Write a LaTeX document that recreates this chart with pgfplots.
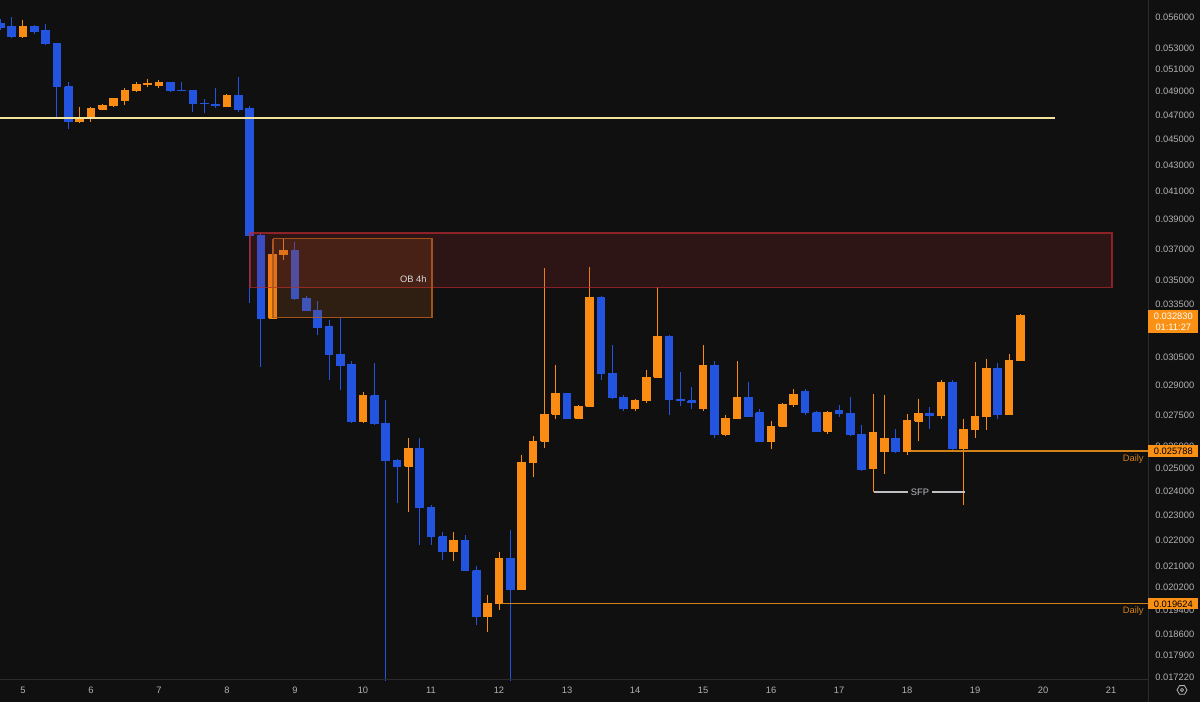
\documentclass[border=0pt]{standalone}
\usepackage{pgfplots}
\pgfplotsset{compat=1.18}
\usepackage{pgfplotstable}
\usepackage{fontspec}
\setmainfont{Liberation Sans}
\usetikzlibrary{shapes.geometric}

\definecolor{bg}{RGB}{16,16,16}
\definecolor{upc}{RGB}{250,140,20}
\definecolor{downc}{RGB}{34,84,224}
\definecolor{axistext}{RGB}{178,178,182}
\definecolor{sepc}{RGB}{44,44,48}
\definecolor{hlinec}{RGB}{242,226,158}
\definecolor{obred}{RGB}{178,40,48}
\definecolor{oborange}{RGB}{175,88,28}
\definecolor{dailyc}{RGB}{210,130,25}
\definecolor{badgec}{RGB}{250,145,20}
\definecolor{sfpc}{RGB}{190,190,195}

% 4h candles, k = number of candles after day 5 00:00
\pgfplotstableread{
k o h l c
-2 0.05535 0.0558 0.0547 0.0550
-1 0.0551 0.0560 0.0539 0.05406
0 0.0541 0.0557 0.0539 0.0551
1 0.0551 0.0552 0.0543 0.0546
2 0.0547 0.0553 0.0533 0.0534
3 0.0534 0.0535 0.04673 0.04944
4 0.04944 0.04988 0.04582 0.04645
5 0.04645 0.04765 0.0463 0.04673
6 0.04673 0.0477 0.04645 0.04757
7 0.04751 0.0479 0.0474 0.04785
8 0.04779 0.0484 0.0477 0.04837
9 0.04828 0.0493 0.04785 0.04909
10 0.04907 0.04988 0.049 0.04968
11 0.04965 0.05013 0.04939 0.0497
12 0.04959 0.05004 0.0493 0.04986
13 0.04984 0.0499 0.049 0.04909
14 0.04915 0.04984 0.04905 0.0491
15 0.04909 0.0491 0.04728 0.04794
16 0.048 0.04837 0.04715 0.04794
17 0.04792 0.0493 0.04757 0.0478
18 0.04776 0.0488 0.0477 0.04871
19 0.04871 0.05028 0.04728 0.04751
20 0.04757 0.0478 0.03357 0.03793
21 0.03793 0.0381 0.02998 0.03269
22 0.03269 0.03741 0.03265 0.03667
23 0.03663 0.03764 0.03628 0.03688
24 0.03688 0.03748 0.0338 0.03387
25 0.03387 0.0340 0.0331 0.03314
26 0.03317 0.03371 0.03172 0.03217
27 0.0322 0.03259 0.02927 0.03065
28 0.03066 0.03278 0.02876 0.03007
29 0.0301 0.0303 0.0271 0.0272
30 0.02716 0.02866 0.0271 0.02845
31 0.02845 0.03017 0.0270 0.0271
32 0.0271 0.02825 0.0168 0.02537
33 0.02537 0.0254 0.0235 0.0251
34 0.0251 0.02639 0.02312 0.02592
35 0.02592 0.0264 0.0218 0.02333
36 0.02333 0.0234 0.0218 0.02212
37 0.02212 0.0223 0.02122 0.02153
38 0.02153 0.0223 0.0212 0.02196
39 0.02196 0.0222 0.0208 0.02081
40 0.02081 0.0210 0.0189 0.01917
41 0.01917 0.01993 0.01866 0.01965
42 0.01965 0.02154 0.01941 0.02129
43 0.02129 0.02239 0.0168 0.02012
44 0.02012 0.0256 0.0201 0.02524
45 0.02524 0.02649 0.02462 0.02625
46 0.02625 0.03576 0.02592 0.02755
47 0.02755 0.03007 0.0273 0.0286
48 0.0286 0.0286 0.0273 0.02735
49 0.02735 0.028 0.0273 0.02794
50 0.02794 0.03582 0.0279 0.03395
51 0.03395 0.034 0.02927 0.02964
52 0.02964 0.03116 0.0283 0.02839
53 0.02839 0.0285 0.0277 0.0278
54 0.0278 0.0283 0.0277 0.0282
55 0.0282 0.02978 0.0281 0.02943
56 0.02943 0.03456 0.0294 0.03167
57 0.03167 0.0317 0.0275 0.02825
58 0.02828 0.02968 0.02797 0.02822
59 0.0282 0.0289 0.0278 0.0281
60 0.0278 0.03116 0.0277 0.03007
61 0.03007 0.0303 0.0264 0.02658
62 0.02658 0.0275 0.0265 0.02735
63 0.02735 0.0303 0.0273 0.02839
64 0.02839 0.02917 0.0274 0.02745
65 0.0276 0.0278 0.0262 0.02625
66 0.02625 0.0272 0.0259 0.02696
67 0.02696 0.0281 0.0269 0.028
68 0.028 0.0288 0.0279 0.02855
69 0.0287 0.0288 0.0275 0.0276
70 0.0276 0.0277 0.0267 0.02672
71 0.02672 0.0277 0.0266 0.0276
72 0.0277 0.028 0.0274 0.02758
73 0.02758 0.0284 0.0265 0.02658
74 0.02658 0.027 0.0249 0.02497
75 0.025 0.02855 0.02397 0.02666
76 0.02576 0.0285 0.02474 0.02639
77 0.02639 0.0268 0.0257 0.02576
78 0.02576 0.02755 0.0256 0.02724
79 0.0272 0.0283 0.02627 0.02758
80 0.02758 0.0279 0.0268 0.02747
81 0.02747 0.0293 0.0273 0.02915
82 0.02915 0.0293 0.0258 0.02588
83 0.02588 0.02729 0.02341 0.0268
84 0.0268 0.03021 0.0264 0.02741
85 0.02741 0.0304 0.02677 0.02989
86 0.02989 0.0302 0.0273 0.02754
87 0.02754 0.03065 0.0275 0.0303
88 0.0303 0.03295 0.0303 0.03283
}\candles

\begin{document}
\begin{tikzpicture}[x=0.6pt,y=0.6pt]
\fill[bg] (0,0) rectangle (1200,702);
\path[use as bounding box] (0,0) rectangle (1200,702);
\begin{axis}[
  at={(0pt,13.2pt)}, anchor=south west,
  scale only axis, width=688.8pt, height=408pt,
  xmin=4.6618, xmax=21.544,
  ymode=log, ymin=0.017126, ymax=0.057728,
  axis line style={draw=none},
  major tick length=0pt, minor tick num=0,
  xtick={5,6,7,8,9,10,11,12,13,14,15,16,17,18,19,20,21},
  xticklabels={5,6,7,8,9,10,11,12,13,14,15,16,17,18,19,20,21},
  ytick={0.056,0.053,0.051,0.049,0.047,0.045,0.043,0.041,0.039,0.037,0.035,0.0335,0.032,0.0305,0.029,0.0275,0.026,0.025,0.024,0.023,0.022,0.021,0.0202,0.0194,0.0186,0.0179,0.01722},
  yticklabels={0.056000,0.053000,0.051000,0.049000,0.047000,0.045000,0.043000,0.041000,0.039000,0.037000,0.035000,0.033500,0.032000,0.030500,0.029000,0.027500,0.026000,0.025000,0.024000,0.023000,0.022000,0.021000,0.020200,0.019400,0.018600,0.017900,0.017220},
  yticklabel pos=right,
  tick label style={font=\fontsize{5.6}{6.5}\selectfont, text=axistext},
  xticklabel style={anchor=center, yshift=-6pt},
  yticklabel style={anchor=west, inner sep=0pt, xshift=4.2pt},
]
% candles
\pgfplotstablegetrowsof{\candles}
\pgfmathtruncatemacro{\lastrow}{\pgfplotsretval-1}
\pgfplotsforeachungrouped \i in {0,...,\lastrow}{%
  \pgfplotstablegetelem{\i}{k}\of\candles \let\vk\pgfplotsretval
  \pgfplotstablegetelem{\i}{o}\of\candles \let\vo\pgfplotsretval
  \pgfplotstablegetelem{\i}{h}\of\candles \let\vh\pgfplotsretval
  \pgfplotstablegetelem{\i}{l}\of\candles \let\vl\pgfplotsretval
  \pgfplotstablegetelem{\i}{c}\of\candles \let\vc\pgfplotsretval
  \pgfmathsetmacro{\cx}{5+(\vk)/6}
  \pgfmathsetmacro{\xa}{\cx-0.054}
  \pgfmathsetmacro{\xb}{\cx+0.054}
  \ifdim\vc pt<\vo pt \def\col{downc}\else\def\col{upc}\fi
  \edef\doit{%
    \noexpand\addplot[forget plot, draw=\col, line width=0.6pt] coordinates {(\cx,\vl) (\cx,\vh)};
    \noexpand\addplot[forget plot, draw=\col, line width=0.6pt, fill=\col] coordinates {(\xa,\vo) (\xb,\vo) (\xb,\vc) (\xa,\vc) (\xa,\vo)};
  }\doit
}
% zones
\addplot[forget plot, draw=obred, draw opacity=0.75, line width=0.7pt, fill=obred, fill opacity=0.18]
  coordinates {(8.338,0.03807) (21.015,0.03807) (21.015,0.03456) (8.338,0.03456) (8.338,0.03807)};
\addplot[forget plot, draw=oborange, draw opacity=0.9, line width=0.7pt, fill=oborange, fill opacity=0.2]
  coordinates {(8.676,0.0377) (11.015,0.0377) (11.015,0.03272) (8.676,0.03272) (8.676,0.0377)};
\node[anchor=east, text=white!85!black, font=\fontsize{5.6}{6.5}\selectfont, inner sep=0pt] at (axis cs:10.94,0.03506) {OB 4h};
% levels
\addplot[forget plot, color=hlinec, line width=1.2pt] coordinates {(4.6,0.04675) (20.176,0.04675)};
\addplot[forget plot, color=dailyc, line width=0.7pt] coordinates {(18.059,0.025788) (21.6,0.025788)};
\addplot[forget plot, color=dailyc, line width=0.7pt] coordinates {(12.044,0.019624) (21.6,0.019624)};
\node[anchor=east, text=dailyc, font=\fontsize{5.6}{6.5}\selectfont, inner sep=0pt] at (axis cs:21.485,0.02542) {Daily};
\node[anchor=east, text=dailyc, font=\fontsize{5.6}{6.5}\selectfont, inner sep=0pt] at (axis cs:21.485,0.01937) {Daily};
% SFP
\addplot[forget plot, color=sfpc, line width=0.9pt] coordinates {(17.515,0.02396) (18.853,0.02396)};
\node[fill=bg, text=sfpc, font=\fontsize{5.6}{6.5}\selectfont, inner xsep=2pt, inner ysep=1pt] at (axis cs:18.19,0.02396) {SFP};
\coordinate (b1) at (axis cs:21.544,0.03283);
\coordinate (b2) at (axis cs:21.544,0.025788);
\coordinate (b3) at (axis cs:21.544,0.019624);
\end{axis}
% separators
\draw[sepc, line width=0.6pt] (1148,0) -- (1148,702);
\draw[sepc, line width=0.6pt] (0,22) -- (1148,22);
% price badges
\node[anchor=north west, fill=badgec, text=white, font=\fontsize{5.6}{6.8}\selectfont, align=center,
  minimum width=30pt, inner xsep=0pt, inner ysep=1.4pt] at ([yshift=3.6pt]b1) {0.032830\\01:11:27};
\node[anchor=west, fill=badgec, text=black, font=\fontsize{5.6}{6.5}\selectfont,
  minimum width=30pt, inner xsep=0pt, inner ysep=1.4pt] at (b2) {0.025788};
\node[anchor=west, fill=badgec, text=black, font=\fontsize{5.6}{6.5}\selectfont,
  minimum width=30pt, inner xsep=0pt, inner ysep=1.4pt] at (b3) {0.019624};
% settings icon
\node[regular polygon, regular polygon sides=6, draw=axistext, line width=0.5pt, minimum size=6pt, inner sep=0pt] at (1182,12) {};
\draw[axistext, line width=0.5pt] (1182,12) circle (1.6);
\end{tikzpicture}
\end{document}
